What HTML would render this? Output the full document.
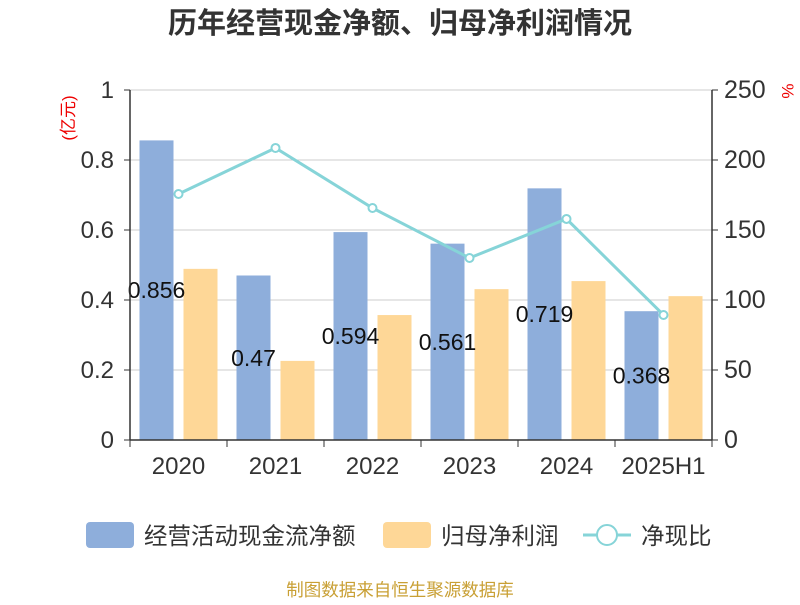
<!DOCTYPE html>
<html><head><meta charset="utf-8">
<style>
body{margin:0;background:#fff;}
svg text{font-family:"Liberation Sans","Noto Sans CJK SC",sans-serif;}
</style></head>
<body>
<svg id="chart" width="800" height="600" xmlns="http://www.w3.org/2000/svg">
<text x="400" y="33" text-anchor="middle" font-size="29" font-weight="bold" fill="#333">历年经营现金净额、归母净利润情况</text>
<g id="grid"></g>
<g id="bars"></g>
<g id="line"></g>
<g id="axes"></g>
<text transform="translate(74,118) rotate(-90)" text-anchor="middle" font-size="17" fill="#e00">(亿元)</text>
<text transform="translate(782,91) rotate(90)" text-anchor="middle" font-size="17" fill="#e00">%</text>
<g>
<rect x="86" y="522" width="48" height="26" rx="4" fill="#8eaedb"/>
<text x="144" y="544" font-size="23.5" fill="#333">经营活动现金流净额</text>
<rect x="383" y="522" width="48" height="26" rx="4" fill="#fed797"/>
<text x="441" y="544" font-size="23.5" fill="#333">归母净利润</text>
<line x1="583" y1="535" x2="631" y2="535" stroke="#86d4d8" stroke-width="3"/>
<circle cx="607" cy="535" r="10" fill="#fff" stroke="#86d4d8" stroke-width="2"/>
<text x="641" y="544" font-size="23.5" fill="#333">净现比</text>
</g>
<text x="400" y="596" text-anchor="middle" font-size="17.5" fill="#c9a035">制图数据来自恒生聚源数据库</text>
</svg>
<script>
const categories=["2020","2021","2022","2023","2024","2025H1"];
const cashFlow=[0.856,0.47,0.594,0.561,0.719,0.368];
const netProfit=[0.489,0.226,0.357,0.431,0.454,0.411];
const ratio=[175.7,208.6,165.7,130,157.9,89.3];
const leftTicks=[0,0.2,0.4,0.6,0.8,1];
const leftTickLabels=["0","0.2","0.4","0.6","0.8","1"];
const rightTicks=[0,50,100,150,200,250];

const NS="http://www.w3.org/2000/svg";
const X0=130,X1=712,Y0=440,Y1=90;
const band=(X1-X0)/categories.length;
const yL=v=>Y0-(v/1)*(Y0-Y1);
const yR=v=>Y0-(v/250)*(Y0-Y1);
const xc=i=>X0+band*(i+0.5);
function mk(tag,attrs,parent,text){const e=document.createElementNS(NS,tag);for(const k in attrs)e.setAttribute(k,attrs[k]);if(text!==undefined)e.textContent=text;document.getElementById(parent).appendChild(e);return e;}

leftTicks.forEach((t,i)=>{
  if(t>0){const g=mk("line",{x1:X0,x2:X1,y1:yL(t),y2:yL(t),stroke:"#ccc","stroke-width":1},"grid");
  
  }
  const l=mk("text",{x:114,y:yL(t)+8,"text-anchor":"end","font-size":24,fill:"#333"},"axes",leftTickLabels[i]);
  
  
  const tk=mk("line",{x1:X0-6,x2:X0,y1:yL(t),y2:yL(t),stroke:"#333"},"axes");
  
  
});
rightTicks.forEach(t=>{
  const l=mk("text",{x:724,y:yR(t)+8,"text-anchor":"start","font-size":25,fill:"#333"},"axes",String(t));
  
  
  const tk=mk("line",{x1:X1,x2:X1+6,y1:yR(t),y2:yR(t),stroke:"#333"},"axes");
  
  
});
const bw=34;
categories.forEach((c,i)=>{
  const cx=xc(i);
  const b=mk("rect",{x:cx-39,y:yL(cashFlow[i]),width:bw,height:Y0-yL(cashFlow[i]),fill:"#8eaedb"},"bars");
  
  
  const o=mk("rect",{x:cx+5,y:yL(netProfit[i]),width:bw,height:Y0-yL(netProfit[i]),fill:"#fed797"},"bars");
  
  
  const lb=mk("text",{x:cx-22,y:(yL(cashFlow[i])+Y0)/2+8,"text-anchor":"middle","font-size":23,fill:"#111"},"bars",String(cashFlow[i]));
  
  
  const xl=mk("text",{x:cx,y:474,"text-anchor":"middle","font-size":24,fill:"#333"},"axes",c);
  
  
});
for(let i=0;i<=categories.length;i++){
  const tk=mk("line",{x1:X0+band*i,x2:X0+band*i,y1:Y0,y2:Y0+7,stroke:"#333"},"axes");
  
  
}
const ax=mk("line",{x1:X0,x2:X1,y1:Y0,y2:Y0,stroke:"#333","stroke-width":1.5},"axes");


const la=mk("line",{x1:X0,x2:X0,y1:Y1,y2:Y0,stroke:"#333","stroke-width":1.5},"axes");


const ra=mk("line",{x1:X1,x2:X1,y1:Y1,y2:Y0,stroke:"#333","stroke-width":1.5},"axes");


const pts=ratio.map((v,i)=>xc(i)+","+yR(v)).join(" ");
const pl=mk("polyline",{points:pts,fill:"none",stroke:"#86d4d8","stroke-width":3},"line");


ratio.forEach((v,i)=>{
  const p=mk("circle",{cx:xc(i),cy:yR(v),r:4,fill:"#fff",stroke:"#86d4d8","stroke-width":2},"line");
  
  
});
</script>
</body></html>
